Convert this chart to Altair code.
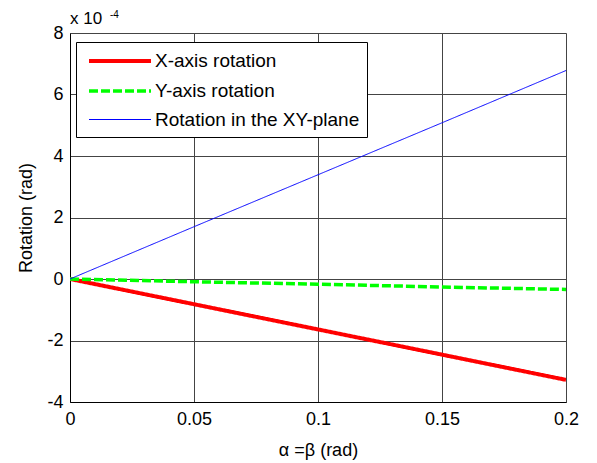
import altair as alt
import pandas as pd

x_vals = [0.0, 0.05, 0.10, 0.15, 0.20]
x_rot = [0.0, -0.82, -1.64, -2.46, -3.28]
y_rot = [0.0, -0.09, -0.17, -0.26, -0.34]
xy_rot = [0.0, 1.70, 3.39, 5.08, 6.78]
series = ["X-axis rotation", "Y-axis rotation", "Rotation in the XY-plane"]
colors = ["#ff0000", "#00ff00", "#0000ff"]
widths = [4, 3.5, 1]
dashes = [[1, 0], [9, 3], [1, 0]]
x_ticks = [0, 0.05, 0.1, 0.15, 0.2]
y_ticks = [-4, -2, 0, 2, 4, 6, 8]

rows = []
for name, vals in zip(series, [x_rot, y_rot, xy_rot]):
    for xv, yv in zip(x_vals, vals):
        rows.append({"a": xv, "r": yv, "s": name})
df = pd.DataFrame(rows)

FONT = "Liberation Sans"
FS = 18

legend = alt.Legend(
    title=None, orient="none", legendX=6, legendY=9,
    strokeColor="black", fillColor="white", padding=7,
    symbolType="M-3.1,0H3.1", symbolSize=400, symbolOffset=25,
    labelFontSize=19, labelFont=FONT,
    labelColor="black", labelOffset=23, rowPadding=8, labelLimit=400,
)

axis_common = dict(grid=True, gridColor="#444", ticks=False,
                   domainColor="black", labelColor="black",
                   labelFontSize=FS, labelFont=FONT,
                   labelFlush=False, labelOverlap=False,
                   titleFont=FONT, titleFontSize=FS, titleFontWeight="normal",
                   titleColor="black")

lines = alt.Chart(df).mark_line(clip=True).encode(
    x=alt.X("a:Q", title="α =β (rad)",
            scale=alt.Scale(domain=[0, 0.2], nice=False),
            axis=alt.Axis(values=x_ticks, labelExpr="'' + datum.value",
                          labelPadding=8, titleY=39, titleBaseline="top",
                          **axis_common)),
    y=alt.Y("r:Q", title="Rotation (rad)",
            scale=alt.Scale(domain=[-4, 8], nice=False),
            axis=alt.Axis(values=y_ticks, labelExpr="'' + datum.value",
                          labelPadding=7, titleX=-35, titleY=184.5,
                          **axis_common)),
    color=alt.Color("s:N", scale=alt.Scale(domain=series, range=colors),
                    legend=legend, sort=series),
    strokeWidth=alt.StrokeWidth("s:N", scale=alt.Scale(type="ordinal", domain=series, range=widths),
                                legend=legend, sort=series),
    strokeDash=alt.StrokeDash("s:N", scale=alt.Scale(domain=series, range=dashes),
                              legend=legend, sort=series),
)

exp1 = alt.Chart(pd.DataFrame({"t": ["x 10"]})).mark_text(
    font=FONT, fontSize=17, align="left", baseline="alphabetic", color="black"
).encode(x=alt.value(0), y=alt.value(-9), text="t:N")
exp2 = alt.Chart(pd.DataFrame({"t": ["-4"]})).mark_text(
    font=FONT, fontSize=10, align="left", baseline="alphabetic", color="black"
).encode(x=alt.value(40), y=alt.value(-15), text="t:N")

chart = alt.layer(lines, exp1, exp2).properties(
    width=496, height=369,
    autosize=alt.AutoSizeParams(type="none"),
    padding={"left": 62, "top": 25, "right": 23, "bottom": 60},
).configure_view(stroke="black", strokeWidth=1).configure(background="white")

chart.save("out.html", embed_options={"renderer": "svg", "actions": False})
